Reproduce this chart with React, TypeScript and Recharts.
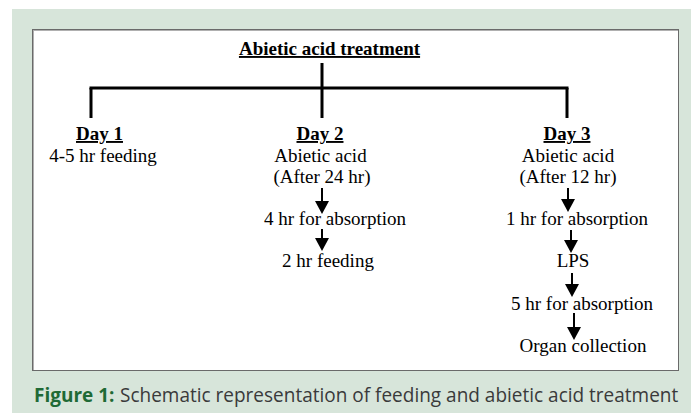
import React from "react";
import { ScatterChart, Scatter, XAxis, YAxis, ReferenceLine } from "recharts";

const W = 691;
const H = 413;
const SERIF = "'Liberation Serif', 'Times New Roman', serif";
const SANS = "'Open Sans', 'Noto Sans', sans-serif";

// diagram coordinates (same units as the picture, y grows downwards)
const headings = ["Abietic acid treatment", "Day 1", "Day 2", "Day 3"];
const headingX = [329.5, 99.5, 320, 567];
const headingY = [55, 140, 140, 140];

const steps = [
  "4-5 hr feeding",
  "Abietic acid",
  "(After 24 hr)",
  "4 hr for absorption",
  "2 hr feeding",
  "Abietic acid",
  "(After 12 hr)",
  "1 hr for absorption",
  "LPS",
  "5 hr for absorption",
  "Organ collection",
];
const stepX = [103, 320.5, 322, 335, 328, 568, 568, 577, 573, 582, 583];
const stepY = [162, 162, 183, 225, 267, 162, 183, 225, 267, 310, 352];

// bracket under the title
const stemTop = 63;
const barY = 88;
const stemBottom = 118;
const branchX = [91, 322, 567];

// arrows: shaft start and tip
const arrowX = [322, 322, 568, 571, 572, 574];
const arrowFrom = [188, 229, 188, 230, 273, 313];
const arrowTo = [214, 251, 212, 253, 297, 340];

const captionLabel = "Figure 1:";
const captionText = "Schematic representation of feeding and abietic acid treatment";

const headingData = headings.map((label, i) => ({ label, x: headingX[i], y: headingY[i] }));
const stepData = steps.map((label, i) => ({ label, x: stepX[i], y: stepY[i] }));
const arrowData = arrowX.map((x, i) => ({ x, y: arrowTo[i] }));
const captionData = [{ x: 34, y: 402 }];

const HeadingShape = (props: any) => {
  const { cx, cy, payload } = props;
  return (
    <text
      x={cx}
      y={cy}
      textAnchor="middle"
      fontFamily={SERIF}
      fontSize={19}
      fontWeight="bold"
      fill="#000"
      textDecoration="underline"
    >
      {payload.label}
    </text>
  );
};

const StepShape = (props: any) => {
  const { cx, cy, payload } = props;
  return (
    <text x={cx} y={cy} textAnchor="middle" fontFamily={SERIF} fontSize={19} fill="#000">
      {payload.label}
    </text>
  );
};

const ArrowHead = (props: any) => {
  const { cx, cy } = props;
  return <path d={`M${cx - 7},${cy - 13} L${cx + 7},${cy - 13} L${cx},${cy} Z`} fill="#000" />;
};

// caption font is a condensed sans in the original, so squeeze Open Sans a bit
const CaptionShape = (props: any) => {
  const { cx, cy } = props;
  return (
    <g>
      <text
        x={0}
        y={0}
        transform={`translate(${cx},${cy}) scale(0.95,1)`}
        fontFamily={SANS}
        fontSize={20}
        fontWeight="bold"
        fill="#1f6a36"
      >
        {captionLabel}
      </text>
      <text
        x={0}
        y={0}
        transform={`translate(${cx + 86},${cy}) scale(0.95,1)`}
        fontFamily={SANS}
        fontSize={20}
        fill="#3a3a3a"
      >
        {captionText}
      </text>
    </g>
  );
};

export default function App() {
  return (
    <div style={{ position: "absolute", left: 0, top: 0, width: W, height: H, background: "#fff" }}>
      <div
        style={{ position: "absolute", left: 12, top: 9, right: 0, bottom: 0, background: "#d7e5da" }}
      />
      <div
        style={{
          position: "absolute",
          left: 32,
          top: 29,
          width: 645,
          height: 340,
          background: "#fff",
          border: "1px solid #6a6a6a",
          boxShadow: "inset 1px 1px 0 #b0b0b0",
        }}
      />
      <div style={{ position: "absolute", left: 0, top: 0 }}>
        <ScatterChart width={W} height={H} margin={{ top: 0, right: 0, bottom: 0, left: 0 }}>
          <XAxis type="number" dataKey="x" domain={[0, W]} hide />
          <YAxis type="number" dataKey="y" domain={[0, H]} reversed hide />
          <ReferenceLine
            segment={[{ x: branchX[1], y: stemTop }, { x: branchX[1], y: barY }]}
            stroke="#000"
            strokeWidth={3}
          />
          <ReferenceLine
            segment={[{ x: branchX[0] - 1.5, y: barY }, { x: branchX[2] + 1.5, y: barY }]}
            stroke="#000"
            strokeWidth={3}
          />
          {branchX.map((bx) => (
            <ReferenceLine
              key={bx}
              segment={[{ x: bx, y: barY }, { x: bx, y: stemBottom }]}
              stroke="#000"
              strokeWidth={3}
            />
          ))}
          {arrowX.map((ax, i) => (
            <ReferenceLine
              key={`a${i}`}
              segment={[{ x: ax, y: arrowFrom[i] }, { x: ax, y: arrowTo[i] - 8 }]}
              stroke="#000"
              strokeWidth={2}
            />
          ))}
          <Scatter data={arrowData} shape={ArrowHead} isAnimationActive={false} />
          <Scatter data={headingData} shape={HeadingShape} isAnimationActive={false} />
          <Scatter data={stepData} shape={StepShape} isAnimationActive={false} />
          <Scatter data={captionData} shape={CaptionShape} isAnimationActive={false} />
        </ScatterChart>
      </div>
    </div>
  );
}
